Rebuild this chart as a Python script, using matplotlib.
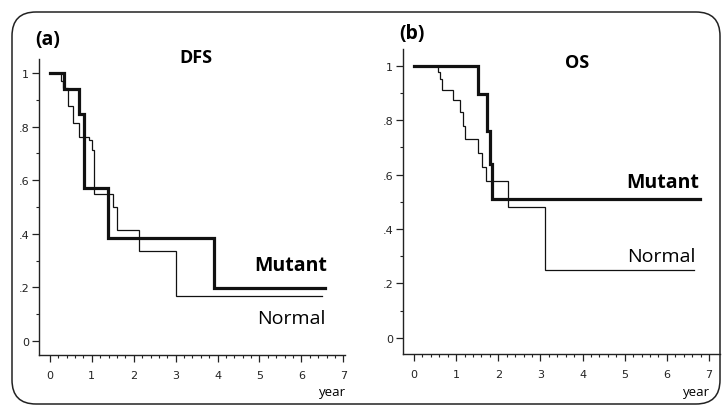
import matplotlib
matplotlib.use("Agg")
import matplotlib.pyplot as plt
import numpy as np
from matplotlib.patches import FancyBboxPatch
from matplotlib.ticker import FixedLocator

# step points (time in years, survival after the step)
dfsMutantT = [0.0, 0.33, 0.70, 0.82, 1.39, 3.91, 6.56]
dfsMutantS = [1.0, 0.941, 0.848, 0.571, 0.385, 0.198, 0.198]

dfsNormalT = [0.0, 0.26, 0.32, 0.42, 0.54, 0.70, 0.94, 1.00, 1.05, 1.51, 1.59, 2.13, 3.00, 6.50]
dfsNormalS = [1.0, 0.97, 0.944, 0.877, 0.814, 0.760, 0.749, 0.711, 0.549, 0.500, 0.415, 0.337, 0.169, 0.169]

osMutantT = [0.0, 1.52, 1.73, 1.80, 1.85, 6.78]
osMutantS = [1.0, 0.896, 0.761, 0.639, 0.510, 0.510]

osNormalT = [0.0, 0.57, 0.61, 0.665, 0.93, 1.10, 1.16, 1.20, 1.52, 1.62, 1.72, 2.23, 3.10, 6.65]
osNormalS = [1.0, 0.976, 0.951, 0.911, 0.872, 0.829, 0.780, 0.731, 0.678, 0.627, 0.575, 0.480, 0.248, 0.248]

yTicks = [0, 0.2, 0.4, 0.6, 0.8, 1.0]
yTickLabels = ['0', '.2', '.4', '.6', '.8', '1']
xTicks = [0, 1, 2, 3, 4, 5, 6, 7]

W, H = 723, 410
fig = plt.figure(figsize=(W / 100, H / 100), dpi=100)

# rounded frame round the whole picture
frame = FancyBboxPatch((12, 5), 708, 392, boxstyle="round,pad=0,rounding_size=24",
                       transform=None, fill=False, edgecolor='#222222', linewidth=1.1)
fig.patches.append(frame)

tickFont = ['Liberation Sans Narrow', 'DejaVu Sans']
textFont = ['Open Sans', 'DejaVu Sans']


def styleAxes(ax, xlim, ylim):
    ax.set_xlim(*xlim)
    ax.set_ylim(*ylim)
    for s in ['top', 'right']:
        ax.spines[s].set_visible(False)
    for s in ['left', 'bottom']:
        ax.spines[s].set_linewidth(1.0)
        ax.spines[s].set_color('#222222')
    ax.set_xticks(xTicks)
    ax.set_xticklabels([str(v) for v in xTicks])
    ax.set_yticks(yTicks)
    ax.set_yticklabels(yTickLabels)
    ax.xaxis.set_minor_locator(FixedLocator(np.arange(0, 7.01, 0.2)))
    ax.yaxis.set_minor_locator(FixedLocator(np.arange(0, 1.01, 0.1)))
    ax.tick_params(which='major', direction='out', length=5, width=0.9, colors='#222222')
    ax.tick_params(which='minor', direction='out', length=2.5, width=0.8, colors='#222222')
    ax.tick_params(axis='x', which='major', pad=6)
    ax.tick_params(axis='y', which='major', pad=2)
    for lab in ax.get_xticklabels() + ax.get_yticklabels():
        lab.set_family(tickFont)
        lab.set_fontsize(8)


def stepLine(ax, t, s, lw):
    ax.step(t, s, where='post', color='#111111', linewidth=lw, solid_joinstyle='miter')


# panel (a) DFS
axA = fig.add_axes([39 / W, 1 - 356 / H, 306 / W, 296 / H])
stepLine(axA, dfsNormalT, dfsNormalS, 0.9)
stepLine(axA, dfsMutantT, dfsMutantS, 2.3)
styleAxes(axA, (-0.26, 7.04), (-0.052, 1.052))

# panel (b) OS
axB = fig.add_axes([403 / W, 1 - 355 / H, 317 / W, 305 / H])
stepLine(axB, osNormalT, osNormalS, 0.9)
stepLine(axB, osMutantT, osMutantS, 2.3)
styleAxes(axB, (-0.26, 7.26), (-0.059, 1.061))


def figText(x, y, s, **kw):
    fig.text(x / W, 1 - y / H, s, family=textFont, va='center', **kw)


figText(35, 40, '(a)', fontsize=14, fontweight='bold', ha='left')
figText(399, 34, '(b)', fontsize=14, fontweight='bold', ha='left')
figText(196, 58, 'DFS', fontsize=13, fontweight='bold', ha='center')
figText(577, 63, 'OS', fontsize=13, fontweight='bold', ha='center')
figText(291, 266, 'Mutant', fontsize=14, fontweight='bold', ha='center')
figText(291, 319, 'Normal', fontsize=14, ha='center')
figText(663, 183, 'Mutant', fontsize=14, fontweight='bold', ha='center')
figText(661, 257, 'Normal', fontsize=14, ha='center')
figText(333, 393, 'year', fontsize=9.5, ha='center')
figText(697, 393, 'year', fontsize=9.5, ha='center')

fig.savefig('out.png', dpi=100)
